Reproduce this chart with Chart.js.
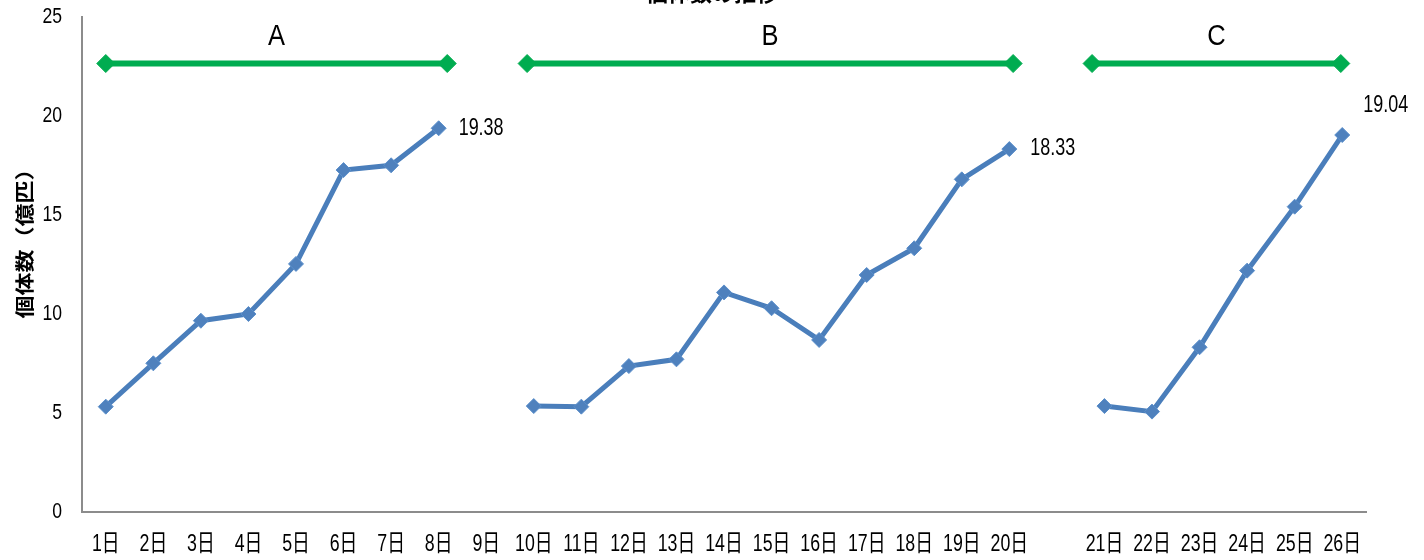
<!DOCTYPE html>
<html>
<head>
<meta charset="utf-8">
<script src="https://cdn.jsdelivr.net/npm/chart.js@4.4.1/dist/chart.umd.min.js"></script>
<style>
  html, body { margin: 0; padding: 0; background: #fff; overflow: hidden; width: 1424px; height: 560px; }
  #wrap { position: absolute; left: 0; top: -24px; width: 1424px; height: 584px; }
</style>
</head>
<body>
<div id="wrap"><canvas id="chart" width="1424" height="584"></canvas></div>
<script>
// ---- data ----
const titleText = '個体数の推移';
const yTitle = '個体数（億匹）';
const days = ['1日','2日','3日','4日','5日','6日','7日','8日','9日',
              '10日','11日','12日','13日','14日','15日','16日','17日','18日','19日','20日',
              '',
              '21日','22日','23日','24日','25日','26日'];
const periodNames = ['A', 'B', 'C'];
// counts (億匹) per period
const seriesA = [5.32, 7.51, 9.66, 10.0, 12.53, 17.27, 17.51, 19.38];                 // 1日–8日
const seriesB = [5.35, 5.32, 7.37, 7.71, 11.09, 10.29, 8.69, 11.97, 13.32, 16.80, 18.33]; // 10日–20日
const seriesC = [5.35, 5.07, 8.32, 12.19, 15.42, 19.04];                              // 21日–26日
const periodStart = ['1日', '10日', '21日'];
// period bracket spans (category index units) and level
const spanA = [0, 7.18];
const spanB = [8.86, 19.08];
const spanC = [20.74, 25.97];
const bracketLevel = 22.65;
const yTicks = [0, 5, 10, 15, 20, 25];

// ---- build datasets ----
function placeSeries(values, startLabel) {
  const arr = days.map(() => null);
  const s = days.indexOf(startLabel);
  values.forEach((v, i) => { arr[s + i] = v; });
  return arr;
}
const SANS = "'Liberation Sans', 'Noto Sans CJK JP', sans-serif";
const CJK = "'Noto Sans CJK JP', sans-serif";
const BLUE = '#4A7EBB';
const BLUE_FILL = '#4F81BD';
const GREEN = '#00AC50';

const blueStyle = {
  borderColor: BLUE, borderWidth: 5,
  pointStyle: 'rectRot', pointRadius: 7.5, pointHoverRadius: 7.5,
  pointBackgroundColor: BLUE_FILL, pointBorderColor: '#5B8FCB', pointBorderWidth: 1,
  spanGaps: false, tension: 0, xAxisID: 'x', yAxisID: 'y'
};
const greenStyle = {
  borderColor: GREEN, borderWidth: 6,
  pointStyle: 'rectRot', pointRadius: 9, pointHoverRadius: 9,
  pointBackgroundColor: GREEN, pointBorderColor: GREEN, pointBorderWidth: 1,
  tension: 0, xAxisID: 'x2', yAxisID: 'y'
};
const bracket = span => [{ x: span[0], y: bracketLevel }, { x: span[1], y: bracketLevel }];

// offsets of the end-value labels from their points
const endLabelOffsets = [[20, 0], [21, 0], [21, -29]];

// draws condensed text (horizontal scale kx)
function narrowText(ctx, text, x, y, font, align, kx) {
  ctx.save();
  ctx.translate(x, y);
  ctx.scale(kx, 1);
  ctx.font = font;
  ctx.textAlign = align;
  ctx.textBaseline = 'middle';
  ctx.fillText(text, 0, 0);
  ctx.restore();
}

const overlay = {
  id: 'overlay',
  afterDatasetsDraw(chart) {
    const ctx = chart.ctx;
    const area = chart.chartArea;
    const xs = chart.scales.x, ys = chart.scales.y;
    ctx.save();
    ctx.fillStyle = '#000';

    // axis tick labels
    chart.data.labels.forEach((lab, i) => {
      if (!lab) return;
      narrowText(ctx, lab, xs.getPixelForValue(i), area.bottom + 32, `24px ${SANS}`, 'center', 0.74);
    });
    ys.ticks.forEach(t => {
      narrowText(ctx, String(t.value), area.left - 20, ys.getPixelForValue(t.value), `22px ${SANS}`, 'right', 0.8);
    });

    // y-axis title
    ctx.save();
    ctx.translate(25, 262);
    ctx.rotate(-Math.PI / 2);
    ctx.scale(1, 0.85);
    ctx.font = `bold 23px ${CJK}`;
    ctx.textAlign = 'center';
    ctx.textBaseline = 'middle';
    ctx.fillText(yTitle, 0, 0);
    ctx.restore();

    // period names above each bracket
    periodNames.forEach((name, i) => {
      const pts = chart.getDatasetMeta(3 + i).data;
      const x = (pts[0].x + pts[pts.length - 1].x) / 2;
      narrowText(ctx, name, x, pts[0].y - 27, `29px ${SANS}`, 'center', 0.88);
    });

    // final value of each period
    [0, 1, 2].forEach(i => {
      const vals = chart.data.datasets[i].data;
      let k = vals.length - 1;
      while (vals[k] == null) k--;
      const p = chart.getDatasetMeta(i).data[k];
      const off = endLabelOffsets[i];
      narrowText(ctx, vals[k].toFixed(2), p.x + off[0], p.y + off[1], `23px ${SANS}`, 'left', 0.78);
    });

    // chart title
    narrowText(ctx, titleText, chart.width / 2, 17, `bold 22px ${CJK}`, 'center', 1);
    ctx.restore();
  }
};

new Chart(document.getElementById('chart'), {
  type: 'line',
  data: {
    labels: days,
    datasets: [
      { label: 'A', data: placeSeries(seriesA, periodStart[0]), ...blueStyle },
      { label: 'B', data: placeSeries(seriesB, periodStart[1]), ...blueStyle },
      { label: 'C', data: placeSeries(seriesC, periodStart[2]), ...blueStyle },
      { label: 'A期間', data: bracket(spanA), ...greenStyle },
      { label: 'B期間', data: bracket(spanB), ...greenStyle },
      { label: 'C期間', data: bracket(spanC), ...greenStyle }
    ]
  },
  options: {
    responsive: false,
    animation: false,
    events: [],
    layout: { padding: { top: 41, right: 58, left: 0, bottom: 0 } },
    plugins: { legend: { display: false }, tooltip: { enabled: false }, title: { display: false } },
    scales: {
      x: {
        type: 'category',
        offset: true,
        grid: { display: false, drawTicks: false },
        border: { display: true, color: '#8C8C8C', width: 2 },
        ticks: { display: false, autoSkip: false },
        afterFit: s => { s.height = 48; }
      },
      x2: { type: 'linear', display: false, min: -0.5, max: days.length - 0.5 },
      y: {
        min: 0, max: 25,
        afterBuildTicks: s => { s.ticks = yTicks.map(v => ({ value: v })); },
        grid: { display: false, drawTicks: false },
        border: { display: true, color: '#8C8C8C', width: 2 },
        ticks: { display: false },
        title: { display: false },
        afterFit: s => { s.width = 82; }
      }
    }
  },
  plugins: [overlay]
});
</script>
</body>
</html>
